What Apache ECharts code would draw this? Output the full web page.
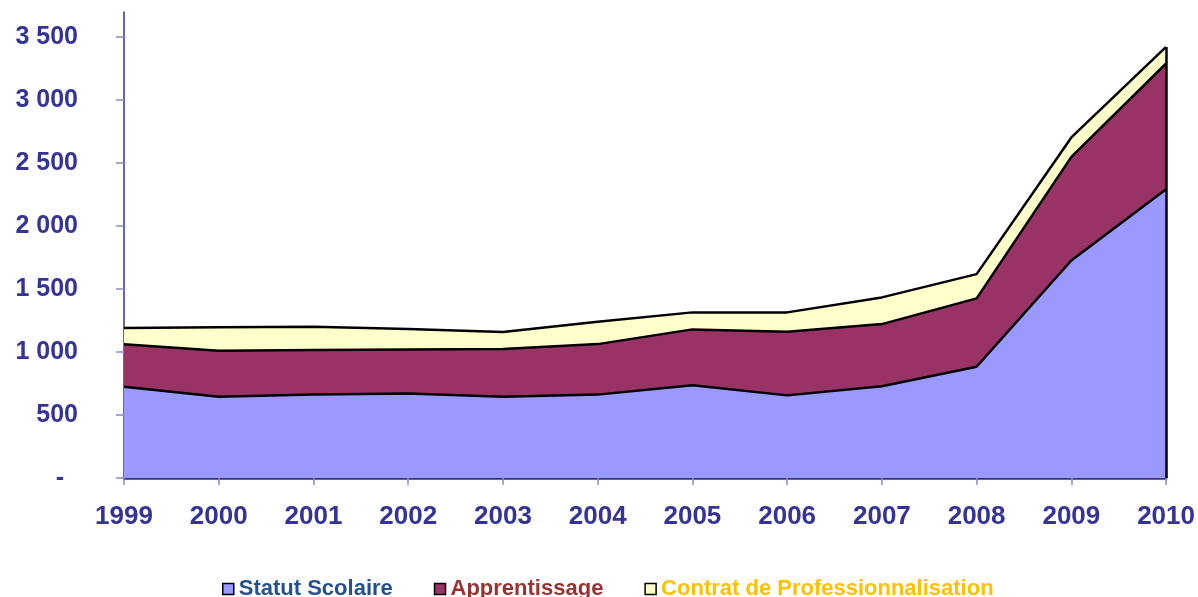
<!DOCTYPE html>
<html>
<head>
<meta charset="utf-8">
<script src="https://cdn.jsdelivr.net/npm/echarts@6/dist/echarts.min.js"></script>
<style>
html,body{margin:0;padding:0;background:#fff;}
#chart{width:1198px;height:597px;}
</style>
</head>
<body>
<div id="chart"></div>
<script>
var years = ['1999','2000','2001','2002','2003','2004','2005','2006','2007','2008','2009','2010'];
var statutScolaire = [725, 645, 663, 671, 645, 662, 737, 656, 728, 883, 1727, 2292];
var apprentissage = [336, 365, 353, 350, 379, 401, 443, 505, 494, 543, 823, 999];
var contratPro = [129, 186, 185, 162, 135, 177, 135, 154, 212, 193, 154, 132];
var yTicks = [0, 500, 1000, 1500, 2000, 2500, 3000, 3500];

var lastIdx = years.length - 1;
var lastTotal = statutScolaire[lastIdx] + apprentissage[lastIdx] + contratPro[lastIdx];

function fmt(v){
  if (v === 0) return '-\u00a0\u00a0';
  var s = String(v);
  if (s.length > 3) s = s.slice(0, s.length - 3) + ' ' + s.slice(s.length - 3);
  return s;
}

var chart = echarts.init(document.getElementById('chart'), null, {renderer:'canvas'});
var lineStyle = {color:'#000', width:2.5};
chart.setOption({
  animation:false,
  grid:{left:124, right:26, top:12, bottom:119, containLabel:false},
  legend:{
    left:217, top:573, itemWidth:11, itemHeight:11, itemGap:41,
    icon:'rect',
    textStyle:{fontFamily:'Liberation Sans, Arial, sans-serif', fontWeight:'bold', fontSize:22},
    data:[
      {name:'Statut Scolaire', itemStyle:{color:'#9999FF', borderColor:'#000', borderWidth:1.5}, textStyle:{color:'#24508F'}},
      {name:'Apprentissage', itemStyle:{color:'#993366', borderColor:'#000', borderWidth:1.5}, textStyle:{color:'#993333'}},
      {name:'Contrat de Professionnalisation', itemStyle:{color:'#FFFFCC', borderColor:'#000', borderWidth:1.5}, textStyle:{color:'#FFC000'}}
    ]
  },
  xAxis:{
    type:'category', data:years, boundaryGap:false,
    axisLine:{lineStyle:{color:'#333377', width:2.5}},
    axisTick:{show:true, length:7, alignWithLabel:true, lineStyle:{color:'#8888CC', width:1.5}},
    axisLabel:{color:'#333399', fontFamily:'Liberation Sans, Arial, sans-serif', fontWeight:'bold', fontSize:26, margin:26},
    splitLine:{show:false}
  },
  yAxis:{
    type:'value', min:0, max:3700,
    axisLine:{show:true, lineStyle:{color:'#333388', width:1.5}},
    axisTick:{show:true, length:8, customValues:yTicks, lineStyle:{color:'#8888CC', width:1.5}},
    axisLabel:{customValues:yTicks, formatter:fmt, color:'#333399', fontFamily:'Liberation Sans, Arial, sans-serif', fontWeight:'bold', fontSize:25, margin:46},
    splitLine:{show:false}
  },
  series:[
    {name:'Statut Scolaire', type:'line', stack:'t', data:statutScolaire, symbol:'none',
     lineStyle:lineStyle, areaStyle:{color:'#9999FF', opacity:1}, itemStyle:{color:'#9999FF'}, z:3,
     markLine:{silent:true, symbol:'none', label:{show:false}, lineStyle:{color:'#000', width:2.5, type:'solid'},
       data:[[{coord:[years[lastIdx], 0]},{coord:[years[lastIdx], lastTotal]}]]}},
    {name:'Apprentissage', type:'line', stack:'t', data:apprentissage, symbol:'none',
     lineStyle:lineStyle, areaStyle:{color:'#993366', opacity:1}, itemStyle:{color:'#993366'}, z:2},
    {name:'Contrat de Professionnalisation', type:'line', stack:'t', data:contratPro, symbol:'none',
     lineStyle:lineStyle, areaStyle:{color:'#FFFFCC', opacity:1}, itemStyle:{color:'#FFFFCC'}, z:1}
  ]
});
</script>
</body>
</html>
